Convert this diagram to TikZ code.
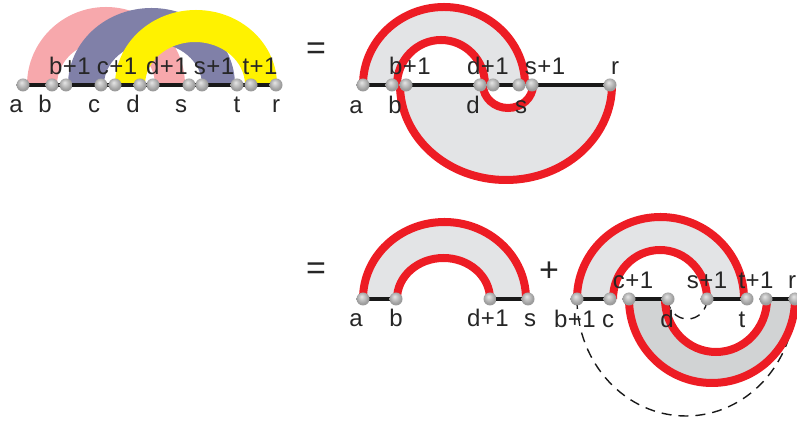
\documentclass[tikz,border=0pt]{standalone}
\usepackage{fontspec}
\setmainfont[LetterSpace=2]{Liberation Sans}
\definecolor{arcred}{HTML}{ED1C24}
\definecolor{bandgray}{HTML}{E3E4E6}
\definecolor{banddark}{HTML}{D1D3D4}
\definecolor{bandpink}{HTML}{F7A8AC}
\definecolor{bandblue}{HTML}{8080A8}
\definecolor{bandyellow}{HTML}{FFF200}
\pgfdeclareradialshading{softball}{\pgfpoint{-6bp}{10bp}}{color(0bp)=(gray!20); color(22bp)=(gray!75); color(42bp)=(gray!90); color(50bp)=(gray!70)}
\begin{document}
\begin{tikzpicture}[x=1pt,y=1pt,
  ball/.style={circle, minimum size=13pt, inner sep=0pt, shading=softball},
  lbl/.style={anchor=base, inner sep=0pt, font=\fontsize{24}{26}\selectfont, text=black!85},
  sign/.style={anchor=base, inner sep=0pt, font=\fontsize{34}{36}\selectfont, text=black!85},
  seg/.style={line width=3.5pt, color=black!90},
  redarc/.style={line width=8pt, color=arcred},
  dasharc/.style={line width=1.4pt, dash pattern=on 10pt off 7pt, color=black!90}]
  \useasboundingbox (0,0) rectangle (797,422);
  % points of the top row, the two right parts and the middle part
  \foreach \n/\x in {ta/23,tb/52,tbb/66,tc/101,tcc/115,td/140,tdd/153,ts/189,tss/202,tt/237,ttt/251,tr/276} {
    \coordinate (\n) at (\x,337);
  }
  \foreach \n/\x in {ua/363,ub/392,ubb/406,ud/480,udd/493,us/519,uss/532,ur/610} {
    \coordinate (\n) at (\x,337);
  }
  \foreach \n/\x in {ma/363,mb/396,mdd/490,ms/528} {
    \coordinate (\n) at (\x,123);
  }
  \foreach \n/\x in {rbb/577,rc/610,rcc/629,rd/668,rss/707,rt/747,rtt/766,rr/795} {
    \coordinate (\n) at (\x,123);
  }
  % coloured bands
  \fill[bandpink] ([xshift=4pt]ta) arc[start angle=180,end angle=0,x radius=79,y radius=78] -- ([xshift=2pt]tdd)
    arc[start angle=0,end angle=180,x radius=49,y radius=44] -- cycle;
  \fill[bandblue] ([xshift=2pt]tbb) arc[start angle=180,end angle=0,x radius=83.5,y radius=77] -- (tss)
    arc[start angle=0,end angle=180,x radius=49,y radius=42] -- cycle;
  \fill[bandyellow] (tcc) arc[start angle=180,end angle=0,x radius=81,y radius=75] -- ([xshift=-6pt]ttt)
    arc[start angle=0,end angle=180,x radius=50,y radius=43] -- cycle;
  \draw[seg] (ta) -- (tr);
  % upper right figure
  \fill[bandgray] (ua) arc[start angle=180,end angle=0,x radius=81,y radius=78] -- ([xshift=-8pt]udd)
    arc[start angle=0,end angle=180,x radius=44,y radius=45] -- cycle;
  \fill[bandgray] ([xshift=-6pt]ubb) arc[start angle=180,end angle=360,x radius=106,y radius=95] -- ([xshift=1pt]uss)
    arc[start angle=360,end angle=180,x radius=25,y radius=23] -- cycle;
  \draw[redarc] (ua) arc[start angle=180,end angle=0,x radius=81,y radius=78];
  \draw[redarc] ([xshift=5pt]ub) arc[start angle=180,end angle=0,x radius=44,y radius=45];
  \draw[redarc] ([xshift=-6pt]ubb) arc[start angle=180,end angle=360,x radius=106,y radius=95];
  \draw[redarc] ([xshift=3pt]ud) arc[start angle=180,end angle=360,x radius=25,y radius=23];
  \draw[seg] (ua) -- (ub);
  \draw[seg] (ubb) -- (ud);
  \draw[seg] (udd) -- (us);
  \draw[seg] (uss) -- (ur);
  % middle figure
  \fill[bandgray] (ma) arc[start angle=180,end angle=0,x radius=81.5,y radius=77] -- (mdd)
    arc[start angle=0,end angle=180,x radius=46.5,y radius=41] -- cycle;
  \draw[redarc] (ma) arc[start angle=180,end angle=0,x radius=81.5,y radius=77];
  \draw[redarc] ([xshift=1pt]mb) arc[start angle=180,end angle=0,x radius=46.5,y radius=41];
  \draw[seg] (ma) -- (mb);
  \draw[seg] (mdd) -- (ms);
  % lower right figure
  \fill[bandgray] (rbb) arc[start angle=180,end angle=0,x radius=83.5,y radius=82] -- (rss)
    arc[start angle=0,end angle=180,x radius=47,y radius=49] -- cycle;
  \fill[banddark] (rcc) arc[start angle=180,end angle=360,x radius=83,y radius=84] -- ([xshift=1pt]rtt)
    arc[start angle=360,end angle=180,x radius=51,y radius=53] -- cycle;
  \draw[dasharc] (rbb) arc[start angle=180,end angle=360,x radius=109,y radius=117];
  \draw[dasharc] (rd) arc[start angle=180,end angle=360,x radius=19.5,y radius=20];
  \draw[redarc] (rbb) arc[start angle=180,end angle=0,x radius=83.5,y radius=82];
  \draw[redarc] ([xshift=3pt]rc) arc[start angle=180,end angle=0,x radius=47,y radius=49];
  \draw[redarc] (rcc) arc[start angle=180,end angle=360,x radius=83,y radius=84];
  \draw[redarc] ([xshift=-3pt]rd) arc[start angle=180,end angle=360,x radius=51,y radius=53];
  \draw[seg] (rbb) -- (rc);
  \draw[seg] (rcc) -- (rd);
  \draw[seg] (rss) -- (rt);
  \draw[seg] (rtt) -- (rr);
  % balls
  \foreach \n in {ta,tb,tbb,tc,tcc,td,tdd,ts,tss,tt,ttt,tr,
                  ua,ub,ubb,ud,udd,us,uss,ur,
                  ma,mb,mdd,ms,
                  rbb,rc,rcc,rd,rss,rt,rtt,rr} {
    \node[ball] (ball\n) at (\n) {};
  }
  % labels
  \foreach \n/\x/\y/\t in {la/16/309/a,lb/45/309/b,lc/94/309/c,ld/133/309/d,ls/181/309/s,lt/237/309/t,lr/276/309/r,
      lbb/70/347/b+1,lcc/117/347/c+1,ldd/167/347/d+1,lss/214/347/s+1,ltt/260/347/t+1,
      ula/356/308/a,ulb/395/308/b,uld/473/308/d,uls/521/308/s,
      ulbb/410/347/b+1,uldd/488/347/d+1,ulss/545/347/s+1,ulr/615/347/r,
      mla/356/95/a,mlb/396/95/b,mldd/488/95/d+1,mls/530/95/s,
      rlbb/575/94/b+1,rlc/608/94/c,rld/667/94/d,rlt/742/94/t,
      rlcc/633/133/c+1,rlss/707/133/s+1,rltt/756/133/t+1,rlr/792/133/r} {
    \node[lbl] (\n) at (\x,\y) {\t};
  }
  \node[sign] (eqtop) at (316,362) {=};
  \node[sign] (eqlow) at (316,142) {=};
  \node[sign] (plus) at (549,140) {+};
\end{tikzpicture}
\end{document}
